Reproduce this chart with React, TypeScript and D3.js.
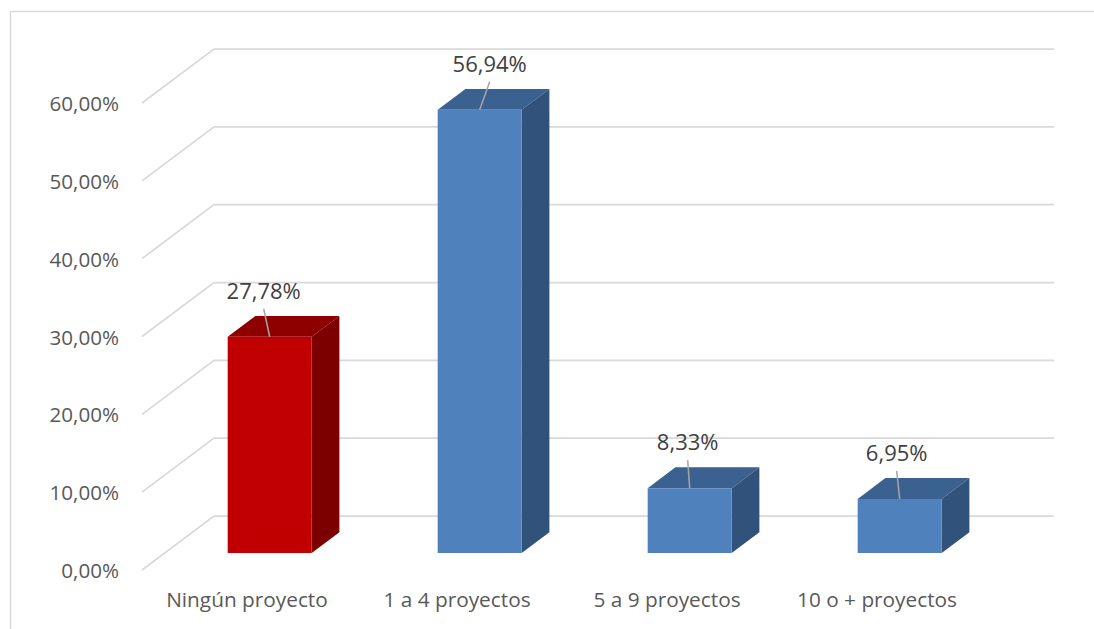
import React from "react";
import * as d3 from "d3";

const categories = ["Ningún proyecto", "1 a 4 proyectos", "5 a 9 proyectos", "10 o + proyectos"];
const values = [0.2778, 0.5694, 0.0833, 0.0695];
const valueLabels = ["27,78%", "56,94%", "8,33%", "6,95%"];
const yTicks = [0, 0.1, 0.2, 0.3, 0.4, 0.5, 0.6];
const tickLabels = ["0,00%", "10,00%", "20,00%", "30,00%", "40,00%", "50,00%", "60,00%"];

// layout / style (not data)
const W = 1094;
const H = 629;
const DEPTH_X = 72;
const DEPTH_Y = -54;
const BAR_D0 = 0.315;
const BAR_D1 = 0.7;
const labelShift = [-6, 10, -2, -3];
const faceColors = [
  { front: "#C00000", top: "#8E0000", side: "#7C0000" },
  { front: "#4F81BD", top: "#3A6190", side: "#31527A" },
  { front: "#4F81BD", top: "#3A6190", side: "#31527A" },
  { front: "#4F81BD", top: "#3A6190", side: "#31527A" },
];
const FONT = "'Open Sans', 'Noto Sans', sans-serif";

export default function App() {
  const x = d3.scaleBand<string>().domain(categories).range([142, 982]).paddingInner(0.6).paddingOuter(0.3);
  const y = d3.scaleLinear().domain([0, 0.6]).range([570, 103]);
  const step = x.step();
  const bandStart = (c: string) => (x(c) as number) - x.step() * 0.3;

  const proj = (px: number, v: number, d: number): [number, number] => [px + d * DEPTH_X, y(v) + d * DEPTH_Y];
  const pts = (arr: [number, number][]) => arr.map((p) => p.join(",")).join(" ");

  const x0 = x.range()[0];
  const x1 = x.range()[1];

  return (
    <svg width={W} height={H} style={{ position: "absolute", left: 0, top: 0, display: "block", background: "#fff" }}>
      <rect x={10.5} y={11.5} width={W + 20} height={H + 20} fill="#fff" stroke="#D9D9D9" strokeWidth={1.5} />
      {yTicks.map((t, i) => {
        const f = proj(x0, t, 0);
        const b = proj(x0, t, 1);
        const e = proj(x1, t, 1);
        return (
          <g key={"g" + i}>
            <polyline points={pts([f, b, e])} fill="none" stroke="#D9D9D9" strokeWidth={1.75} />
            <text x={119} y={f[1] + 8} textAnchor="end" fontFamily={FONT} fontSize={20.6} fill="#595959">
              {tickLabels[i]}
            </text>
          </g>
        );
      })}
      {categories.map((c, i) => {
        const v = values[i];
        const xl = x(c) as number;
        const xr = xl + x.bandwidth();
        const col = faceColors[i];
        const fbl = proj(xl, 0, BAR_D0);
        const fbr = proj(xr, 0, BAR_D0);
        const ftl = proj(xl, v, BAR_D0);
        const ftr = proj(xr, v, BAR_D0);
        const btl = proj(xl, v, BAR_D1);
        const btr = proj(xr, v, BAR_D1);
        const bbr = proj(xr, 0, BAR_D1);
        const cx = (ftl[0] + ftr[0]) / 2;
        const top = ftl[1];
        const lx = cx + labelShift[i];
        return (
          <g key={"b" + i}>
            <polygon points={pts([ftl, btl, btr, ftr])} fill={col.top} />
            <polygon points={pts([fbr, ftr, btr, bbr])} fill={col.side} />
            <polygon points={pts([fbl, ftl, ftr, fbr])} fill={col.front} />
            <line x1={lx} y1={top - 28} x2={cx} y2={top} stroke="#A6A6A6" strokeWidth={1.5} />
            <text x={lx} y={top - 38} textAnchor="middle" fontFamily={FONT} fontSize={22} fill="#404040">
              {valueLabels[i]}
            </text>
          </g>
        );
      })}
      {categories.map((c, i) => (
        <text
          key={"c" + i}
          x={bandStart(c) + step / 2}
          y={607}
          textAnchor="middle"
          fontFamily={FONT}
          fontSize={20.8}
          fill="#595959"
        >
          {c}
        </text>
      ))}
    </svg>
  );
}
